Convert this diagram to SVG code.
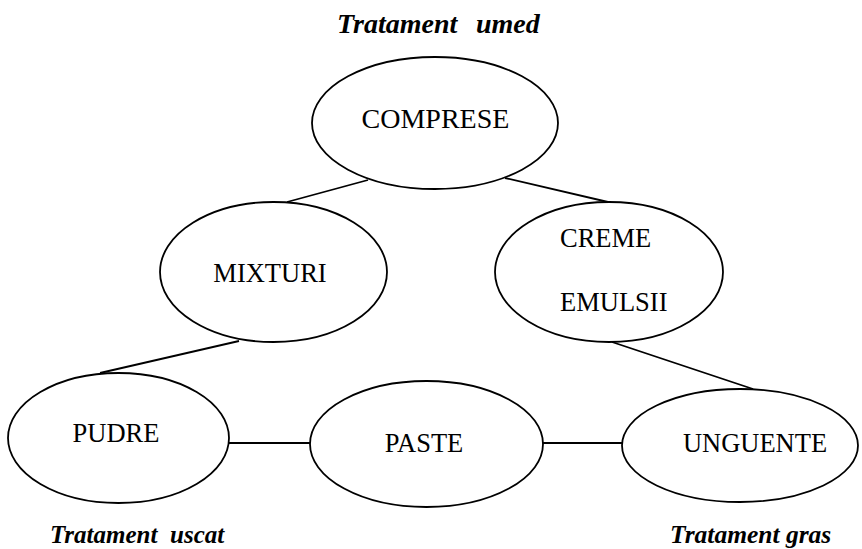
<svg xmlns="http://www.w3.org/2000/svg" width="862" height="549" viewBox="0 0 862 549">
<style>
.node ellipse{fill:#fff;stroke:#000;stroke-width:1.8}
.node text{font-size:26.5px;fill:#000;text-anchor:middle}
#connectors line{stroke:#000;stroke-width:1.8}
.cap{font-weight:bold;font-style:italic;fill:#000}
</style>
<rect width="862" height="549" fill="#fff"/>
<g id="connectors">
<line x1="368" y1="180" x2="287" y2="202"/>
<line x1="505" y1="178" x2="608" y2="202"/>
<line x1="239" y1="341" x2="100" y2="373"/>
<line x1="612" y1="342" x2="753" y2="389"/>
<line x1="229" y1="443" x2="310" y2="443"/>
<line x1="543" y1="443" x2="622" y2="443"/>
</g>
<g font-family="Liberation Serif, Times New Roman, DejaVu Serif, serif">
<g id="compresse" class="node">
<ellipse cx="435" cy="123" rx="123" ry="66"/>
<text x="435.5" y="128" style="font-size:28px">COMPRESE</text>
</g>
<g id="mixturi" class="node">
<ellipse cx="273.5" cy="272" rx="113.5" ry="70"/>
<text x="270" y="282">MIXTURI</text>
</g>
<g id="creme" class="node">
<ellipse cx="609" cy="272" rx="114" ry="70"/>
<text x="560" y="247" style="text-anchor:start">CREME</text>
<text x="560" y="311" style="text-anchor:start">EMULSII</text>
</g>
<g id="pudre" class="node">
<ellipse cx="118.5" cy="438" rx="110.5" ry="65"/>
<text x="116" y="442">PUDRE</text>
</g>
<g id="paste" class="node">
<ellipse cx="426.5" cy="444" rx="116.5" ry="63"/>
<text x="424" y="452">PASTE</text>
</g>
<g id="unguente" class="node">
<ellipse cx="740" cy="445.5" rx="118" ry="56.5"/>
<text x="755" y="452">UNGUENTE</text>
</g>
<g id="labels">
<text class="cap" x="337" y="33" font-size="28">Tratament<tspan x="476">umed</tspan></text>
<text class="cap" x="50" y="543" font-size="25">Tratament<tspan x="170">uscat</tspan></text>
<text class="cap" x="670" y="543" font-size="25.5">Tratament gras</text>
</g>
</g>
</svg>
